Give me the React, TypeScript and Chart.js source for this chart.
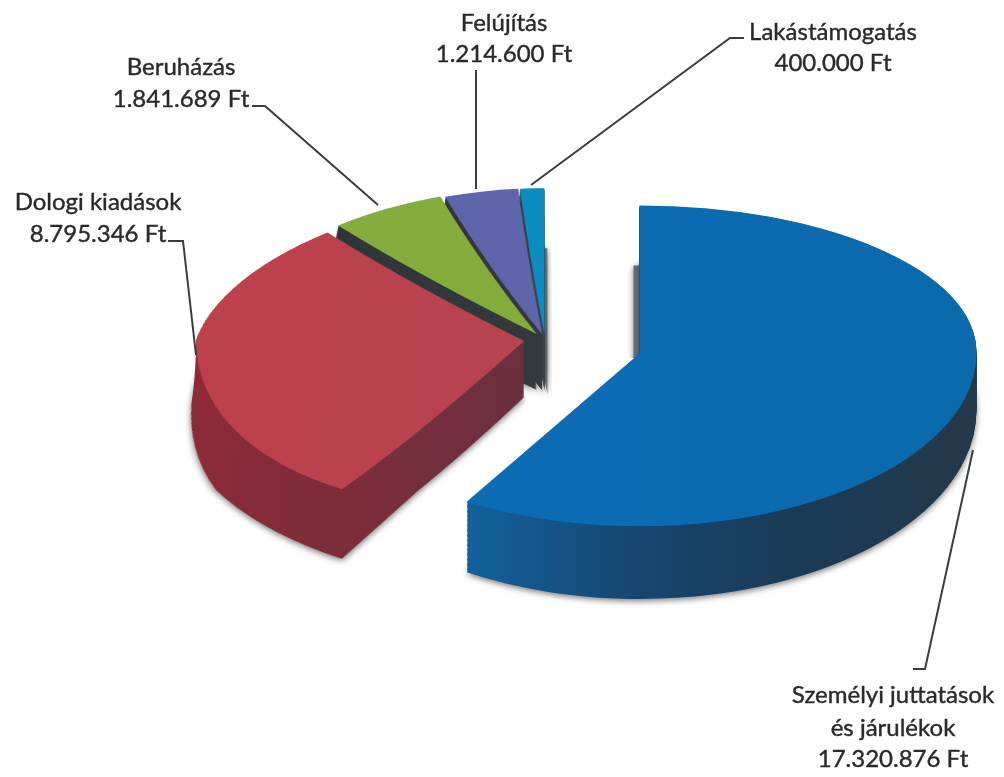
import React, { useEffect, useRef } from "react";
import { Chart, registerables } from "chart.js";

Chart.register(...registerables);

const categories = ["Személyi juttatások és járulékok", "Dologi kiadások", "Beruházás", "Felújítás", "Lakástámogatás"];
const amounts = [17320876, 8795346, 1841689, 1214600, 400000];
const labelNames = [["Személyi juttatások", "és járulékok"], ["Dologi kiadások"], ["Beruházás"], ["Felújítás"], ["Lakástámogatás"]];

const W = 1004, H = 777;
const RADIUS = 332;
const explode = [98, 21, 16, 13, 13];
const sliceWidth = [1.015, 0.988, 1, 1, 1];
const topColors = [
  ["#0d6db6", "#0b6cb4", "#0a6aac"],
  ["#bd414c", "#b6444f", "#b44450"],
  ["#86ae3e", "#84ac3c", "#82aa3c"],
  ["#5e63aa", "#5f65ab", "#5f65ab"],
  ["#0b8dc2", "#0b8cc0", "#0b88bc"],
];
const wallStops: [number, string][][] = [
  [[473, "#12609c"], [640, "#16466f"], [800, "#1a3a55"], [975, "#24394a"]],
  [[197, "#8e2a38"], [347, "#7e2d3a"], [530, "#6a3040"]],
  [[320, "#2f3638"], [540, "#33393c"]],
  [[440, "#2f3638"], [540, "#33393c"]],
  [[515, "#33393c"], [550, "#3d4347"]],
];
const TOP_SCALE = 0.44, LOW_SCALE = 0.52;
const DEPTH = 56, GROW = 0.09;
const VANISH_X = 543, TOP_NARROW = 0.0009, LOW_WIDEN = 0.075;

type Lay = { x: number; y: number[]; line: number[][] };
const layout: Lay[] = [
  { x: 893, y: [703, 736, 767], line: [[913, 669], [925, 669], [973, 450]] },
  { x: 98, y: [210, 242], line: [[168, 241], [183, 241], [196, 355]] },
  { x: 181, y: [75, 107], line: [[252, 106], [265, 106], [378, 205]] },
  { x: 504, y: [31, 62], line: [[476, 70], [476, 189]] },
  { x: 833, y: [40, 71], line: [[744, 38], [730, 38], [531, 185]] },
];

const fmt = (v: number) => String(v).replace(/\B(?=(\d{3})+$)/g, ".") + " Ft";

function xGrad(ctx: CanvasRenderingContext2D, stops: [number, string][], shift: number) {
  const a = stops[0][0], b = stops[stops.length - 1][0];
  const g = ctx.createLinearGradient(a - shift, 0, b - shift, 0);
  stops.forEach(([x, c]) => g.addColorStop((x - a) / (b - a), c));
  return g;
}

function paint(ctx: CanvasRenderingContext2D, el: any, i: number, dy: number, grow: number, fill: (shift: number) => any, shadow = false) {
  const half = (el.startAngle + el.endAngle) / 2;
  const e = explode[i];
  const ex = Math.cos(half) * e, ey = Math.sin(half) * e;
  const orig = el.options;
  el.options = { ...orig, backgroundColor: fill(ex), borderWidth: 0 };
  const seam = el.y + dy;
  ([[0, seam, TOP_SCALE], [seam, H - seam, LOW_SCALE * grow]] as number[][]).forEach(([top, h, s]) => {
    ctx.save();
    ctx.beginPath();
    ctx.rect(0, top, W, h);
    ctx.clip();
    if (shadow) {
      ctx.shadowColor = "rgba(50,50,50,0.65)";
      ctx.shadowBlur = 6;
      ctx.shadowOffsetY = 2;
    }
    ctx.translate(0, seam);
    ctx.scale(1, s);
    ctx.translate(0, -el.y);
    ctx.translate(el.x + ex, 0);
    ctx.scale(sliceWidth[i], 1);
    ctx.translate(-el.x - ex, 0);
    ctx.translate(ex, ey);
    el.draw(ctx);
    ctx.restore();
  });
  el.options = orig;
}

function warp(ctx: CanvasRenderingContext2D, seam: number) {
  const tmp = document.createElement("canvas");
  tmp.width = W;
  tmp.height = H;
  tmp.getContext("2d")!.drawImage(ctx.canvas, 0, 0);
  ctx.clearRect(0, 0, W, H);
  for (let y = 0; y < H; y++) {
    const d = y - seam;
    const t = Math.min(Math.abs(d) / 150, 1);
    const f = d < 0 ? 1 + TOP_NARROW * d : 1 + LOW_WIDEN * t * t;
    ctx.drawImage(tmp, 0, y, W, 1, VANISH_X - VANISH_X * f, y, W * f, 1);
  }
}

function drawSlice(ctx: CanvasRenderingContext2D, el: any, i: number) {
  for (let d = DEPTH; d >= 1; d--) {
    paint(ctx, el, i, d, 1 + (GROW * d) / DEPTH, (s) => xGrad(ctx, wallStops[i], s), d === DEPTH);
  }
  const tc = topColors[i];
  paint(ctx, el, i, 0, 1, (s) => {
    const g = ctx.createLinearGradient(el.x - RADIUS - s, 0, el.x + RADIUS - s, 0);
    g.addColorStop(0, tc[0]); g.addColorStop(0.5, tc[1]); g.addColorStop(1, tc[2]);
    return g;
  });
}

function sliver(ctx: CanvasRenderingContext2D, el: any, i: number, shiftX: number, clipBox: number[], color: string) {
  ctx.save();
  ctx.beginPath();
  ctx.rect(clipBox[0], clipBox[1], clipBox[2], clipBox[3]);
  ctx.clip();
  ctx.translate(shiftX, 0);
  paint(ctx, el, i, 60, 1, () => color, true);
  ctx.restore();
}

const pie3d = {
  id: "pie3d",
  beforeDatasetsDraw(chart: any) {
    const ctx: CanvasRenderingContext2D = chart.ctx;
    const arcs = chart.getDatasetMeta(0).data;
    sliver(ctx, arcs[4], 4, 3, [540, 240, 12, 160], "#6a6f72");
    [4, 3, 2, 1].forEach((i) => drawSlice(ctx, arcs[i], i));
    warp(ctx, arcs[0].y);
    sliver(ctx, arcs[0], 0, -6, [620, 250, 30, 108], "#6a7078");
    drawSlice(ctx, arcs[0], 0);
    return false;
  },
  afterDraw(chart: any) {
    const ctx: CanvasRenderingContext2D = chart.ctx;
    ctx.save();
    ctx.strokeStyle = "#3a3d40";
    ctx.lineWidth = 2;
    layout.forEach((l) => {
      ctx.beginPath();
      l.line.forEach(([x, y], k) => (k ? ctx.lineTo(x, y) : ctx.moveTo(x, y)));
      ctx.stroke();
    });
    ctx.fillStyle = "#2a2a2a";
    ctx.strokeStyle = "#2a2a2a";
    ctx.lineWidth = 0.4;
    ctx.font = "24px Lato";
    ctx.textAlign = "center";
    ctx.textBaseline = "alphabetic";
    layout.forEach((l, i) => {
      const lines = [...labelNames[i], fmt(amounts[i])];
      lines.forEach((t, k) => {
        ctx.fillText(t, l.x, l.y[k]);
        ctx.strokeText(t, l.x, l.y[k]);
      });
    });
    ctx.restore();
  },
};

export default function App() {
  const ref = useRef<HTMLCanvasElement>(null);
  useEffect(() => {
    const chart = new Chart(ref.current!, {
      type: "pie",
      data: { labels: categories, datasets: [{ data: amounts, backgroundColor: topColors.map((c) => c[1]), borderWidth: 0 }] },
      options: {
        animation: false,
        responsive: false,
        radius: RADIUS,
        rotation: 0,
        layout: { padding: { left: 86, bottom: 97 } },
        plugins: { legend: { display: false }, tooltip: { enabled: false } },
      },
      plugins: [pie3d],
    } as any);
    return () => chart.destroy();
  }, []);
  return <canvas ref={ref} width={W} height={H} style={{ position: "fixed", left: 0, top: 0, background: "#fff" }} />;
}
